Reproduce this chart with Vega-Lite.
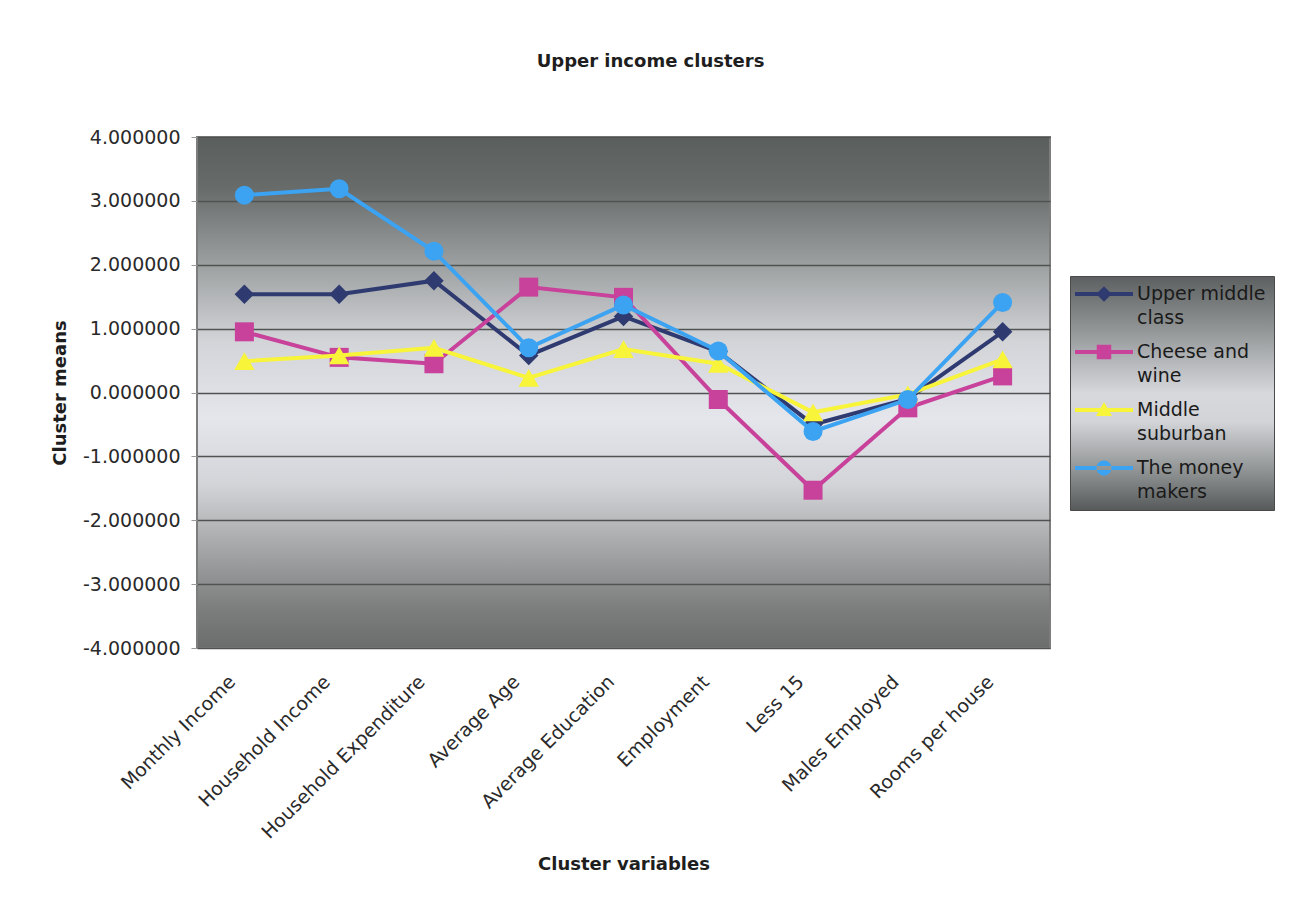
{
  "$schema": "https://vega.github.io/schema/vega-lite/v6.json",
  "width": 853,
  "height": 511,
  "autosize": "none",
  "padding": {"left": 197, "top": 137, "right": 247, "bottom": 263},
  "background": "white",
  "title": {
    "text": "Upper income clusters",
    "font": "DejaVu Sans",
    "fontSize": 18,
    "fontWeight": "bold",
    "color": "#1e1e1e",
    "anchor": "middle",
    "frame": "group",
    "baseline": "bottom",
    "dx": 27,
    "offset": 39
  },
  "view": {
    "stroke": "#7d7d7d",
    "strokeWidth": 2,
    "fill": {
      "gradient": "linear",
      "x1": 0, "y1": 0, "x2": 0, "y2": 1,
      "stops": [
        {"offset": 0, "color": "#5a5e5d"},
        {"offset": 0.1, "color": "#676b6a"},
        {"offset": 0.25, "color": "#9da0a1"},
        {"offset": 0.4, "color": "#d2d4d8"},
        {"offset": 0.55, "color": "#e4e6ec"},
        {"offset": 0.68, "color": "#d2d4d8"},
        {"offset": 0.8, "color": "#a6a8a9"},
        {"offset": 0.92, "color": "#7c7f7e"},
        {"offset": 1, "color": "#6a6d6c"}
      ]
    }
  },
  "datasets": {
    "means": [
      {"variable": "Monthly Income", "series": "Upper middle class", "mean": 1.54},
      {"variable": "Household Income", "series": "Upper middle class", "mean": 1.54},
      {"variable": "Household Expenditure", "series": "Upper middle class", "mean": 1.75},
      {"variable": "Average Age", "series": "Upper middle class", "mean": 0.58},
      {"variable": "Average Education", "series": "Upper middle class", "mean": 1.19},
      {"variable": "Employment", "series": "Upper middle class", "mean": 0.64},
      {"variable": "Less 15", "series": "Upper middle class", "mean": -0.5},
      {"variable": "Males Employed", "series": "Upper middle class", "mean": -0.1},
      {"variable": "Rooms per house", "series": "Upper middle class", "mean": 0.95},
      {"variable": "Monthly Income", "series": "Cheese and wine", "mean": 0.95},
      {"variable": "Household Income", "series": "Cheese and wine", "mean": 0.55},
      {"variable": "Household Expenditure", "series": "Cheese and wine", "mean": 0.45},
      {"variable": "Average Age", "series": "Cheese and wine", "mean": 1.65},
      {"variable": "Average Education", "series": "Cheese and wine", "mean": 1.49},
      {"variable": "Employment", "series": "Cheese and wine", "mean": -0.11},
      {"variable": "Less 15", "series": "Cheese and wine", "mean": -1.53},
      {"variable": "Males Employed", "series": "Cheese and wine", "mean": -0.24},
      {"variable": "Rooms per house", "series": "Cheese and wine", "mean": 0.26},
      {"variable": "Monthly Income", "series": "Middle suburban", "mean": 0.49},
      {"variable": "Household Income", "series": "Middle suburban", "mean": 0.58},
      {"variable": "Household Expenditure", "series": "Middle suburban", "mean": 0.7},
      {"variable": "Average Age", "series": "Middle suburban", "mean": 0.23},
      {"variable": "Average Education", "series": "Middle suburban", "mean": 0.68},
      {"variable": "Employment", "series": "Middle suburban", "mean": 0.45},
      {"variable": "Less 15", "series": "Middle suburban", "mean": -0.31},
      {"variable": "Males Employed", "series": "Middle suburban", "mean": -0.03},
      {"variable": "Rooms per house", "series": "Middle suburban", "mean": 0.52},
      {"variable": "Monthly Income", "series": "The money makers", "mean": 3.09},
      {"variable": "Household Income", "series": "The money makers", "mean": 3.19},
      {"variable": "Household Expenditure", "series": "The money makers", "mean": 2.21},
      {"variable": "Average Age", "series": "The money makers", "mean": 0.7},
      {"variable": "Average Education", "series": "The money makers", "mean": 1.37},
      {"variable": "Employment", "series": "The money makers", "mean": 0.65},
      {"variable": "Less 15", "series": "The money makers", "mean": -0.61},
      {"variable": "Males Employed", "series": "The money makers", "mean": -0.11},
      {"variable": "Rooms per house", "series": "The money makers", "mean": 1.41}
    ]
  },
  "data": {"name": "means"},
  "encoding": {
    "x": {
      "field": "variable",
      "type": "nominal",
      "sort": ["Monthly Income", "Household Income", "Household Expenditure", "Average Age", "Average Education", "Employment", "Less 15", "Males Employed", "Rooms per house"],
      "scale": {"type": "point", "padding": 0.5},
      "axis": {
        "title": "Cluster variables",
        "titleFont": "DejaVu Sans",
        "titleFontSize": 18,
        "titleFontWeight": "bold",
        "titleColor": "#1e1e1e",
        "titlePadding": 13,
        "labelFont": "DejaVu Sans",
        "labelFontSize": 19,
        "labelColor": "#2a2a2a",
        "labelAngle": -45,
        "labelAlign": "right",
        "labelBaseline": "top",
        "labelPadding": 24,
        "labelOffset": -19,
        "labelLimit": 400,
        "ticks": false,
        "domain": false,
        "grid": false
      }
    },
    "y": {
      "field": "mean",
      "type": "quantitative",
      "scale": {"domain": [-4, 4], "nice": false, "zero": false},
      "axis": {
        "title": "Cluster means",
        "titleFont": "DejaVu Sans",
        "titleFontSize": 18,
        "titleFontWeight": "bold",
        "titleColor": "#1e1e1e",
        "titlePadding": 13,
        "labelFont": "DejaVu Sans",
        "labelFontSize": 19,
        "labelColor": "#2a2a2a",
        "labelPadding": 11,
        "labelExpr": "replace(format(datum.value, '.6f'), '\u2212', '-')",
        "values": [-4, -3, -2, -1, 0, 1, 2, 3, 4],
        "tickSize": 6,
        "tickColor": "#9a9a9a",
        "domain": false,
        "grid": true,
        "gridColor": "#505352",
        "gridWidth": 1.5
      }
    }
  },
  "layer": [
    {
      "transform": [{"filter": {"field": "series", "equal": "Upper middle class"}}],
      "mark": {"type": "line", "color": "#2f3b70", "strokeWidth": 4},
      "encoding": {}
    },
    {
      "transform": [{"filter": {"field": "series", "equal": "Upper middle class"}}],
      "mark": {"type": "point", "shape": "diamond", "filled": true, "size": 380, "color": "#2f3b70", "opacity": 1}
    },
    {
      "transform": [{"filter": {"field": "series", "equal": "Cheese and wine"}}],
      "mark": {"type": "line", "color": "#c8419a", "strokeWidth": 4},
      "encoding": {}
    },
    {
      "transform": [{"filter": {"field": "series", "equal": "Cheese and wine"}}],
      "mark": {"type": "point", "shape": "square", "filled": true, "size": 361, "color": "#c8419a", "opacity": 1}
    },
    {
      "transform": [{"filter": {"field": "series", "equal": "Middle suburban"}}],
      "mark": {"type": "line", "color": "#f8f43a", "strokeWidth": 4},
      "encoding": {}
    },
    {
      "transform": [{"filter": {"field": "series", "equal": "Middle suburban"}}],
      "mark": {"type": "point", "shape": "triangle-up", "filled": true, "size": 420, "color": "#f8f43a", "opacity": 1}
    },
    {
      "transform": [{"filter": {"field": "series", "equal": "The money makers"}}],
      "mark": {"type": "line", "color": "#3ba3f2", "strokeWidth": 4},
      "encoding": {}
    },
    {
      "transform": [{"filter": {"field": "series", "equal": "The money makers"}}],
      "mark": {"type": "point", "shape": "circle", "filled": true, "size": 361, "color": "#3ba3f2", "opacity": 1}
    },
    {
      "data": {"values": []},
      "mark": {"type": "point", "filled": true, "opacity": 1},
      "encoding": {
        "color": {
          "field": "series",
          "type": "nominal",
          "scale": {
            "domain": ["Upper middle class", "Cheese and wine", "Middle suburban", "The money makers"],
            "range": ["#2f3b70", "#c8419a", "#f8f43a", "#3ba3f2"]
          },
          "legend": {
            "orient": "none",
            "legendX": 873,
            "legendY": 139,
            "title": null,
            "padding": 8,
            "symbolSize": 3364,
            "symbolOffset": -3,
            "symbolOpacity": 1,
            "symbolStrokeWidth": 0,
            "labelOffset": 4,
            "rowPadding": 14,
            "labelFont": "DejaVu Sans",
            "labelFontSize": 19,
            "labelColor": "#1a1a1a",
            "labelBaseline": "middle",
            "labelLimit": 300,
            "labelExpr": "datum.label == 'Upper middle class' ? ['Upper middle', 'class'] : datum.label == 'Cheese and wine' ? ['Cheese and', 'wine'] : datum.label == 'Middle suburban' ? ['Middle', 'suburban'] : ['The money', 'makers']",
            "strokeColor": "#4a4a4a",
            "encode": {
              "labels": {"update": {"lineHeight": {"value": 24}, "dy": {"value": -19}}},
              "legend": {
                "update": {
                  "fill": {
                    "value": {
                      "gradient": "linear",
                      "x1": 0, "y1": 0, "x2": 0, "y2": 1,
                      "stops": [
                        {"offset": 0, "color": "#5d6060"},
                        {"offset": 0.2, "color": "#8c8f90"},
                        {"offset": 0.5, "color": "#d6d8dc"},
                        {"offset": 0.62, "color": "#d2d4d8"},
                        {"offset": 0.85, "color": "#8a8d8d"},
                        {"offset": 1, "color": "#575a5a"}
                      ]
                    }
                  }
                }
              }
            }
          }
        },
        "shape": {
          "field": "series",
          "type": "nominal",
          "scale": {
            "domain": ["Upper middle class", "Cheese and wine", "Middle suburban", "The money makers"],
            "range": [
              "M-1,-0.725H1V-0.585H-1Z M0,-0.925L0.27,-0.655L0,-0.385L-0.27,-0.655Z",
              "M-1,-0.725H1V-0.585H-1Z M-0.25,-0.905H0.25V-0.405H-0.25Z",
              "M-1,-0.725H1V-0.585H-1Z M0,-0.935L0.28,-0.445L-0.28,-0.445Z",
              "M-1,-0.725H1V-0.585H-1Z M-0.26,-0.655A0.26,0.26,0,1,0,0.26,-0.655A0.26,0.26,0,1,0,-0.26,-0.655Z"
            ]
          }
        }
      }
    }
  ]
}
